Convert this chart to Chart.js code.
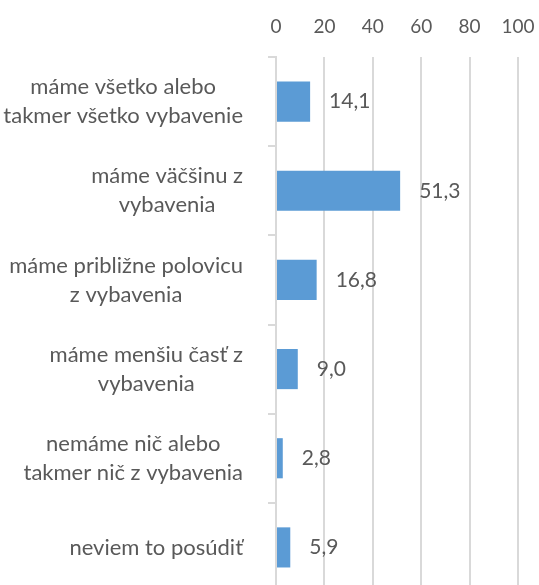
<!DOCTYPE html>
<html>
<head>
<meta charset="utf-8">
<script src="https://cdn.jsdelivr.net/npm/chart.js@4.4.1/dist/chart.umd.min.js"></script>
<style>
  html, body { margin: 0; padding: 0; background: #fff; overflow: hidden; }
  #wrap { width: 539px; height: 592px; }
</style>
</head>
<body>
<div id="wrap"><canvas id="myChart"></canvas></div>
<script>
var categories = [
  ["máme všetko alebo", "takmer všetko vybavenie"],
  ["máme väčšinu z", "vybavenia"],
  ["máme približne polovicu", "z vybavenia"],
  ["máme menšiu časť z", "vybavenia"],
  ["nemáme nič alebo", "takmer nič z vybavenia"],
  ["neviem to posúdiť"]
];
var values = [14.1, 51.3, 16.8, 9.0, 2.8, 5.9];
var xTicks = [0, 20, 40, 60, 80, 100];

var FONT = "Lato, 'Open Sans', sans-serif";
var TEXT = "#595959";
var GRID = "#d9d9d9";

// category labels: block right-aligned, lines centered inside the block
var catLabels = {
  id: "catLabels",
  afterDraw: function(chart) {
    var ctx = chart.ctx;
    var y = chart.scales.y;
    var right = chart.chartArea.left - 33;
    var lh = 29;
    ctx.save();
    ctx.font = "22px " + FONT;
    ctx.fillStyle = TEXT;
    ctx.textAlign = "center";
    ctx.textBaseline = "middle";
    categories.forEach(function(lines, i) {
      var w = 0;
      lines.forEach(function(l) { w = Math.max(w, ctx.measureText(l).width); });
      var cx = right - w / 2;
      var cy = y.getPixelForTick(i);
      var y0 = cy - (lines.length - 1) * lh / 2;
      lines.forEach(function(l, k) { ctx.fillText(l, cx, y0 + k * lh); });
    });
    ctx.restore();
  }
};

// value labels to the right of each bar
var valueLabels = {
  id: "valueLabels",
  afterDatasetsDraw: function(chart) {
    var ctx = chart.ctx;
    var meta = chart.getDatasetMeta(0);
    ctx.save();
    ctx.font = "21px " + FONT;
    ctx.fillStyle = TEXT;
    ctx.textAlign = "left";
    ctx.textBaseline = "middle";
    meta.data.forEach(function(bar, i) {
      ctx.fillText(values[i].toFixed(1).replace(".", ","), bar.x + 19, bar.y);
    });
    ctx.restore();
  }
};

new Chart("myChart", {
  type: "bar",
  data: {
    labels: categories,
    datasets: [{
      data: values,
      backgroundColor: "#5b9bd5",
      borderWidth: 0,
      barPercentage: 0.45,
      categoryPercentage: 1
    }]
  },
  options: {
    indexAxis: "y",
    responsive: true,
    maintainAspectRatio: false,
    animation: false,
    layout: { padding: 0 },
    plugins: { legend: { display: false }, tooltip: { enabled: false } },
    scales: {
      x: {
        position: "top",
        min: 0,
        max: 100,
        afterBuildTicks: function(s) { s.ticks = xTicks.map(function(v) { return { value: v }; }); },
        afterFit: function(s) { s.height = 57; s.paddingRight = 21; s.paddingLeft = 0; },
        grid: { color: GRID, lineWidth: 2, drawTicks: false },
        border: { display: false },
        ticks: { color: TEXT, font: { family: FONT, size: 19 }, padding: 19 }
      },
      y: {
        afterFit: function(s) { s.width = 276; },
        grid: { offset: true, drawOnChartArea: false, color: GRID, lineWidth: 2, tickLength: 8 },
        border: { display: true, color: GRID, width: 2 },
        ticks: { display: false }
      }
    }
  },
  plugins: [catLabels, valueLabels]
});
</script>
</body>
</html>
